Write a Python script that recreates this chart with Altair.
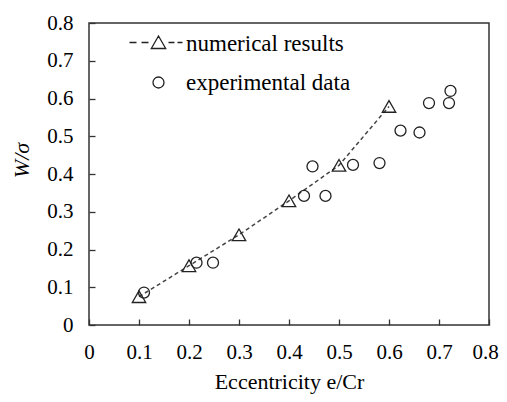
import altair as alt
import pandas as pd

# Data
num_x = [0.1, 0.2, 0.3, 0.4, 0.5, 0.6]
num_y = [0.075, 0.157, 0.239, 0.329, 0.423, 0.579]

exp_x = [0.11, 0.215, 0.248, 0.43, 0.447, 0.473, 0.528, 0.581, 0.623, 0.661, 0.68, 0.72, 0.723]
exp_y = [0.086, 0.165, 0.165, 0.342, 0.42, 0.342, 0.424, 0.429, 0.515, 0.51, 0.588, 0.588, 0.62]

series_names = ["numerical results", "experimental data"]
tick_values = [0, 0.1, 0.2, 0.3, 0.4, 0.5, 0.6, 0.7, 0.8]

num_df = pd.DataFrame({"x": num_x, "y": num_y, "series": series_names[0]})
exp_df = pd.DataFrame({"x": exp_x, "y": exp_y, "series": series_names[1]})

FONT = "Liberation Serif"
INK = "#222222"

# legend symbol: dashed line with a triangle; small circle (unit = 10 px at size 400)
leg_num = ("M-2.9,-0.1L-2.2,-0.1M-1.7,-0.1L-1.0,-0.1"
           "M-0.72,0.5L0,-0.75L0.72,0.5Z"
           "M1.0,-0.1L1.6,-0.1M1.9,-0.1L2.4,-0.1")
leg_exp = "M0.55,0A0.55,0.55 0 1,1 -0.55,0A0.55,0.55 0 1,1 0.55,0Z"

x_axis = alt.Axis(values=tick_values, format=".1~f", title="Eccentricity e/Cr",
                  labelFlush=False, labelOverlap=False, offset=-6, domain=False,
                  grid=False, tickSize=6, labelPadding=16, titlePadding=9,
                  labelOffset={"condition": {"test": "datum.value > 0.75", "value": -4}, "value": 0},
                  labelFont=FONT, labelFontSize=21, labelColor="black",
                  titleFont=FONT, titleFontSize=22, titleColor="black",
                  titleFontWeight="normal", tickColor="#333333", tickWidth=1.3)
y_axis = alt.Axis(values=tick_values, format=".1~f", title="W/σ",
                  labelFlush=False, labelOverlap=False, offset=-6, domain=False,
                  grid=False, tickSize=6, labelPadding=16, titlePadding=13, titleY=137,
                  labelFont=FONT, labelFontSize=21, labelColor="black",
                  titleFont=FONT, titleFontSize=22, titleColor="black",
                  titleFontWeight="normal", titleFontStyle="italic",
                  tickColor="#333333", tickWidth=1.3)

x_enc = alt.X("x:Q", scale=alt.Scale(domain=[0, 0.8], nice=False), axis=x_axis)
y_enc = alt.Y("y:Q", scale=alt.Scale(domain=[0, 0.8], nice=False), axis=y_axis)

line = alt.Chart(num_df).mark_line(strokeDash=[4, 3], strokeWidth=1.5, color="#444444").encode(
    x=x_enc, y=y_enc)

tri = alt.Chart(num_df).mark_point(shape="triangle-up", size=180, filled=False,
                                   color=INK, strokeWidth=1.3, opacity=1).encode(x=x_enc, y=y_enc)

circ = alt.Chart(exp_df).mark_point(size=400, filled=False, color=INK,
                                    strokeWidth=1.3, opacity=1).encode(
    x=x_enc, y=y_enc,
    shape=alt.Shape("series:N",
                    scale=alt.Scale(domain=series_names, range=[leg_num, leg_exp]),
                    legend=alt.Legend(title=None, orient="none", legendX=58, legendY=9,
                                      padding=0, symbolSize=400, labelOffset=16,
                                      rowPadding=15, labelFont=FONT, labelFontSize=23,
                                      labelColor="black", symbolStrokeWidth=1.3,
                                      symbolStrokeColor=INK, symbolFillColor="transparent",
                                      labelLimit=400)))

chart = alt.layer(line, tri, circ).properties(
    width=400, height=302,
    background="white",
    autosize=alt.AutoSizeParams(type="none"),
    padding={"left": 81, "top": 15, "right": 10, "bottom": 69},
).configure_view(stroke="#333333", strokeWidth=1.5)

chart.save("out.html", embed_options={"renderer": "svg", "actions": False})
